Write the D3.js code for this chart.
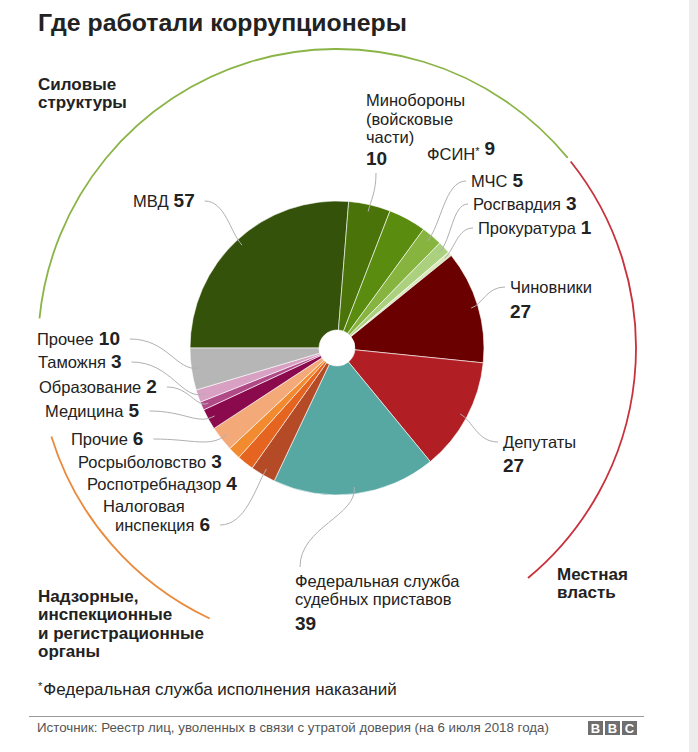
<!DOCTYPE html>
<html lang="ru">
<head>
  <meta charset="UTF-8" />
  <title>Где работали коррупционеры</title>
  <script src="https://d3js.org/d3.v7.min.js"></script>
  <style>
    body { margin: 0; background: #fff; }
    svg { display: block; font-family: "Liberation Sans", Arial, sans-serif; }
    .lbl { font-size: 16.5px; fill: #222; }
    .num { font-size: 19px; font-weight: bold; fill: #222; }
    .grp { font-size: 17px; font-weight: bold; fill: #222; }
    .lead { fill: none; stroke: #b0b0b0; stroke-width: 1; }
  </style>
</head>
<body>
<svg width="698" height="752"></svg>
<script>
  // sectors, clockwise starting from the left (9 o'clock)
  const sectors = ["МВД", "Минобороны\n(войсковые\nчасти)", "ФСИН*", "МЧС", "Росгвардия", "Прокуратура",
    "Чиновники", "Депутаты", "Федеральная служба\nсудебных приставов", "Налоговая\nинспекция",
    "Роспотребнадзор", "Росрыболовство", "Прочие", "Медицина", "Образование", "Таможня", "Прочее"];
  const counts = [57, 10, 9, 5, 3, 1, 27, 27, 39, 6, 4, 3, 6, 5, 2, 3, 10];
  const sectorColors = ["#35520a", "#4a740a", "#5a8c10", "#86b43e", "#abd07e", "#d8e9bc",
    "#6a0000", "#b11f25", "#57a7a2", "#b44a26", "#e5641f", "#f28b30", "#f4aa78",
    "#8b0a4d", "#b04a87", "#d8a0c3", "#b6b6b6"];

  // group arcs around the pie (degrees, clockwise from 12 o'clock)
  const groups = ["Силовые\nструктуры", "Местная\nвласть", "Надзорные,\nинспекционные\nи регистрационные\nорганы"];
  const groupStart = [-84.3, 51.4, 205.2];
  const groupEnd = [50.5, 140.3, 252.8];
  const groupColors = ["#8ab446", "#c8323c", "#ea8a3c"];

  const footnote = "*Федеральная служба исполнения наказаний";
  const source = "Источник: Реестр лиц, уволенных в связи с утратой доверия (на 6 июля 2018 года)";

  // label placement
  const layout = [
    { x: 133, y: 207, side: "L" },
    { x: 366, y: 106, side: "T", lh: 18.5, gap: 22 },
    { x: 427, y: 160 },
    { x: 471, y: 187, side: "R" },
    { x: 473, y: 210, side: "R" },
    { x: 478, y: 234, side: "R" },
    { x: 510, y: 293, side: "R", gap: 25 },
    { x: 503, y: 448, side: "R", gap: 24 },
    { x: 295, y: 587, side: "B", lh: 18, gap: 25 },
    { x: 103, y: 512, side: "L", lh: 19, xs: [103, 115] },
    { x: 87, y: 490 },
    { x: 78, y: 468 },
    { x: 71, y: 445, side: "L" },
    { x: 45, y: 417, side: "L" },
    { x: 39, y: 393, side: "L" },
    { x: 38, y: 368, side: "L" },
    { x: 37, y: 345, side: "L" }
  ];

  const svg = d3.select("svg");
  const cx = 337, cy = 348, R = 147;

  svg.append("rect").attr("x", 689).attr("y", 0).attr("width", 9).attr("height", 752).attr("fill", "#ececec");

  svg.append("text").attr("x", 38).attr("y", 31)
    .attr("font-size", 24.8).attr("font-weight", "bold").attr("fill", "#222")
    .text("Где работали коррупционеры");

  const data = sectors.map((s, i) => ({ name: s, count: counts[i], color: sectorColors[i], pos: layout[i] }));

  const pie = d3.pie().sort(null).value(d => d.count)
    .startAngle(-Math.PI / 2).endAngle(3 * Math.PI / 2);
  const arcs = pie(data);
  const arc = d3.arc().innerRadius(18).outerRadius(R);
  const leadArc = d3.arc().innerRadius(140).outerRadius(140);

  const g = svg.append("g").attr("transform", `translate(${cx},${cy})`);

  g.selectAll("path.slice")
    .data(arcs)
    .enter()
    .append("path")
    .attr("class", "slice")
    .attr("d", arc)
    .attr("fill", d => d.data.color)
    .attr("stroke", "rgba(255,255,255,0.6)")
    .attr("stroke-width", 1);

  // group arcs
  const rad = Math.PI / 180;
  groups.forEach((name, i) => {
    const p = d3.path();
    p.arc(cx, cy, 299, (groupStart[i] - 90) * rad, (groupEnd[i] - 90) * rad);
    svg.append("path").attr("d", p.toString())
      .attr("fill", "none").attr("stroke", groupColors[i]).attr("stroke-width", 1.8);
  });

  // group titles
  const groupPos = [[38, 90], [557, 580], [38, 602]];
  groups.forEach((name, i) => {
    name.split("\n").forEach((ln, j) => {
      svg.append("text").attr("class", "grp")
        .attr("x", groupPos[i][0]).attr("y", groupPos[i][1] + j * 18.3).text(ln);
    });
  });

  // labels + leaders
  const labels = svg.append("g");
  arcs.forEach(a => {
    const d = a.data, p = d.pos;
    const names = d.name.split("\n");
    const lh = p.lh || 19;
    const own = p.gap !== undefined;
    const nodes = [];
    names.forEach((ln, j) => {
      const t = labels.append("text").attr("class", "lbl")
        .attr("x", p.xs ? p.xs[j] : p.x).attr("y", p.y + j * lh);
      if (ln.endsWith("*")) {
        t.append("tspan").text(ln.slice(0, -1));
        t.append("tspan").attr("font-size", 11).attr("dy", -5).text("*");
        t.append("tspan").attr("dy", 5).text("");
      } else {
        t.append("tspan").text(ln);
      }
      if (!own && j === names.length - 1) {
        t.append("tspan").attr("class", "num").attr("dx", 5).text(d.count);
      }
      nodes.push({ t, y: p.y + j * lh });
    });
    let lastY = p.y + (names.length - 1) * lh;
    if (own) {
      lastY += p.gap;
      labels.append("text").attr("class", "num").attr("x", p.x).attr("y", lastY).text(d.count);
    }
    if (!p.side) return;

    const [bx, by] = leadArc.centroid(a);
    const B = [cx + bx, cy + by];
    let A;
    if (p.side === "L") {
      const last = nodes[nodes.length - 1];
      const bb = last.t.node().getBBox();
      A = [bb.x + bb.width + 10, last.y - 6];
    } else if (p.side === "R") {
      const bb = nodes[0].t.node().getBBox();
      A = [bb.x - 5, nodes[0].y - 6];
    } else if (p.side === "T") {
      A = [p.x + 10, lastY + 8];
    } else {
      A = [p.x + 5, p.y - 20];
    }
    const mid = (a.startAngle + a.endAngle) / 2;
    const u = [Math.sin(mid), -Math.cos(mid)];
    const dist = Math.hypot(B[0] - A[0], B[1] - A[1]);
    let c1;
    if (p.side === "T" || p.side === "B") c1 = [A[0], A[1] + (B[1] - A[1]) * 0.5];
    else c1 = [A[0] + (B[0] - A[0]) * 0.55, A[1]];
    const c2 = [B[0] + u[0] * dist * 0.3, B[1] + u[1] * dist * 0.3];
    const path = d3.path();
    path.moveTo(A[0], A[1]);
    path.bezierCurveTo(c1[0], c1[1], c2[0], c2[1], B[0], B[1]);
    labels.append("path").attr("class", "lead").attr("d", path.toString());
  });

  // footnote
  const fn = svg.append("text").attr("x", 38).attr("y", 695).attr("font-size", 17).attr("fill", "#222");
  fn.append("tspan").attr("font-size", 11).attr("dy", -5).text(footnote[0]);
  fn.append("tspan").attr("dy", 5).attr("dx", 1).text(footnote.slice(1));

  // footer
  svg.append("line").attr("x1", 29).attr("x2", 644).attr("y1", 716.5).attr("y2", 716.5)
    .attr("stroke", "#9a9a9a").attr("stroke-width", 1);
  svg.append("text").attr("x", 37).attr("y", 732).attr("font-size", 13.3).attr("fill", "#555").text(source);

  const bbc = svg.append("g").attr("transform", "translate(588,721)");
  ["B", "B", "C"].forEach((ch, i) => {
    bbc.append("rect").attr("x", i * 17).attr("y", 0).attr("width", 15).attr("height", 14).attr("fill", "#6f6f6f");
    bbc.append("text").attr("x", i * 17 + 7.5).attr("y", 12).attr("text-anchor", "middle")
      .attr("font-size", 13).attr("font-weight", "bold").attr("fill", "#fff").text(ch);
  });
</script>
</body>
</html>
